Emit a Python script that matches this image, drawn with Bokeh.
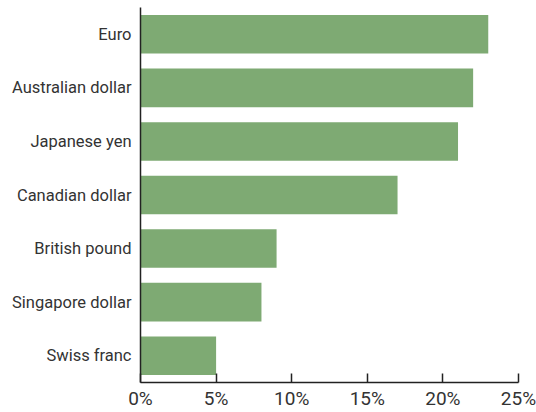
from bokeh.plotting import figure
from bokeh.models import FactorRange, Range1d, FixedTicker, CustomJSTickFormatter
from bokeh.embed import file_html
from bokeh.resources import INLINE

currencies = ["Euro", "Australian dollar", "Japanese yen", "Canadian dollar",
              "British pound", "Singapore dollar", "Swiss franc"]
shares = [23, 22, 21, 17, 9, 8, 5]
x_ticks = [0, 5, 10, 15, 20, 25]

FONT = "Roboto"

p = figure(y_range=FactorRange(*reversed(currencies), range_padding=0),
           x_range=Range1d(0, 25),
           width=536, height=412,
           min_border_left=140, min_border_right=18, min_border_top=7, min_border_bottom=28,
           output_backend="svg", toolbar_location=None)

p.hbar(y=currencies, right=shares, left=0, height=0.72, color="#7eaa73", line_color=None)

p.xgrid.visible = False
p.ygrid.visible = False
p.outline_line_color = None

p.xaxis.ticker = FixedTicker(ticks=x_ticks)
p.xaxis.formatter = CustomJSTickFormatter(code="return tick + '%';")
p.xaxis.major_tick_in = 9
p.xaxis.major_tick_out = 0
p.xaxis.minor_tick_line_color = None
p.xaxis.axis_line_color = "#222222"
p.xaxis.major_tick_line_color = "#222222"
p.xaxis.axis_line_width = 1.5
p.xaxis.major_tick_line_width = 1.5
p.xaxis.major_label_text_font = FONT
p.xaxis.major_label_text_font_size = "19px"
p.xaxis.major_label_text_color = "#333333"
p.xaxis.major_label_standoff = 4

p.yaxis.major_tick_line_color = None
p.yaxis.minor_tick_line_color = None
p.yaxis.axis_line_color = "#222222"
p.yaxis.axis_line_width = 1.5
p.yaxis.major_label_text_font = FONT
p.yaxis.major_label_text_font_size = "16.5px"
p.yaxis.major_label_text_color = "#333333"
p.yaxis.major_label_standoff = 3

open("out.html", "w").write(file_html(p, INLINE))
